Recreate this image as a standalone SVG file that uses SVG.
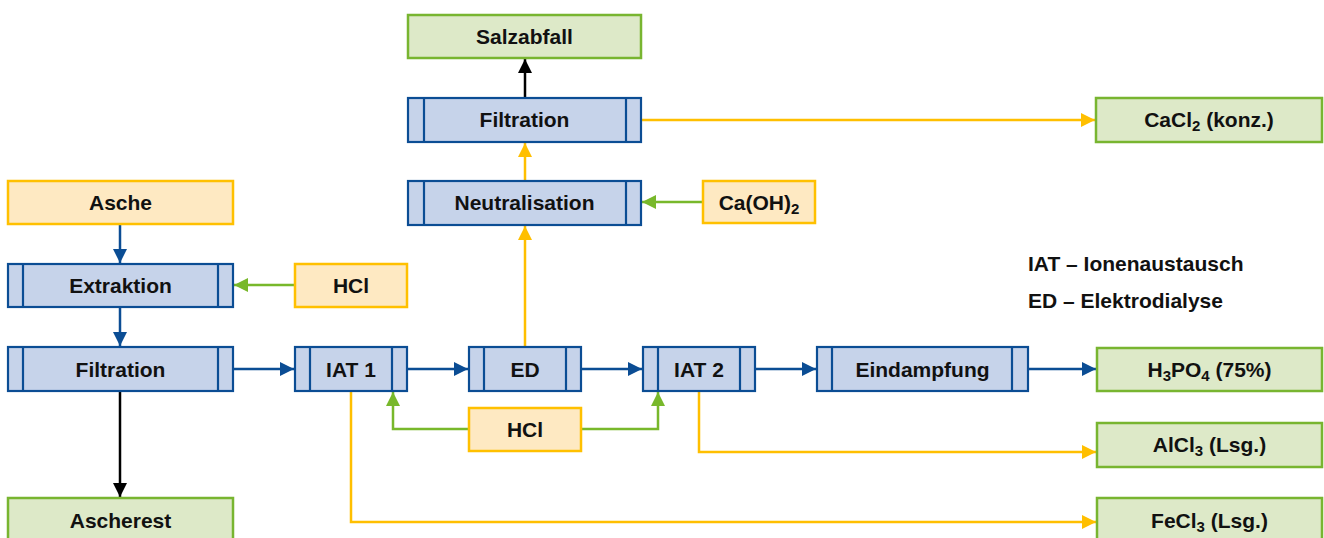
<svg xmlns="http://www.w3.org/2000/svg" width="1324" height="538" viewBox="0 0 1324 538">
<style>
text{font-family:"Liberation Sans",Arial,sans-serif;font-weight:bold;font-size:21px;fill:#111;text-anchor:middle}
.legend{text-anchor:start}
.proc{fill:#c6d3ea;stroke:#0b4d94;stroke-width:2.2}
.div{stroke:#0b4d94;stroke-width:2.2;fill:none}
.in{fill:#fee9c2;stroke:#ffc000;stroke-width:2.5}
.out{fill:#dde9c8;stroke:#78b530;stroke-width:2.5}
.cb{stroke:#0b4d94;stroke-width:2.5;fill:none}
.cg{stroke:#78b82b;stroke-width:2.5;fill:none}
.cy{stroke:#ffbf00;stroke-width:2.5;fill:none}
.ck{stroke:#000;stroke-width:2.5;fill:none}
</style>
<defs>
<marker id="ab" markerUnits="userSpaceOnUse" markerWidth="14" markerHeight="14" viewBox="0 0 14 14" refX="14" refY="7" orient="auto"><path d="M0,0L14,7L0,14z" fill="#0b4d94"/></marker>
<marker id="ag" markerUnits="userSpaceOnUse" markerWidth="14" markerHeight="14" viewBox="0 0 14 14" refX="14" refY="7" orient="auto"><path d="M0,0L14,7L0,14z" fill="#78b82b"/></marker>
<marker id="ay" markerUnits="userSpaceOnUse" markerWidth="14" markerHeight="14" viewBox="0 0 14 14" refX="14" refY="7" orient="auto"><path d="M0,0L14,7L0,14z" fill="#ffbf00"/></marker>
<marker id="ak" markerUnits="userSpaceOnUse" markerWidth="14" markerHeight="14" viewBox="0 0 14 14" refX="14" refY="7" orient="auto"><path d="M0,0L14,7L0,14z" fill="#000"/></marker>
</defs>

<g id="connectors">
<path class="cb" d="M120,224V263" marker-end="url(#ab)"/>
<path class="cb" d="M120,307V346" marker-end="url(#ab)"/>
<path class="cb" d="M233,369H294" marker-end="url(#ab)"/>
<path class="cb" d="M407,369H468" marker-end="url(#ab)"/>
<path class="cb" d="M581,369H642" marker-end="url(#ab)"/>
<path class="cb" d="M755,369H816" marker-end="url(#ab)"/>
<path class="cb" d="M1028,369H1096" marker-end="url(#ab)"/>
<path class="cg" d="M295,285H234" marker-end="url(#ag)"/>
<path class="cg" d="M703,202H642" marker-end="url(#ag)"/>
<path class="cg" d="M469,429H393V392" marker-end="url(#ag)"/>
<path class="cg" d="M581,429H658V392" marker-end="url(#ag)"/>
<path class="cy" d="M525,347V226" marker-end="url(#ay)"/>
<path class="cy" d="M525,181V143" marker-end="url(#ay)"/>
<path class="cy" d="M641,120H1095" marker-end="url(#ay)"/>
<path class="cy" d="M699,391V452H1096" marker-end="url(#ay)"/>
<path class="cy" d="M351,391V522H1096" marker-end="url(#ay)"/>
<path class="ck" d="M525,98V59" marker-end="url(#ak)"/>
<path class="ck" d="M120,391V497" marker-end="url(#ak)"/>
</g>

<g id="asche"><rect class="in" x="8" y="181" width="225" height="43"/><text x="120.5" y="210">Asche</text></g>
<g id="extraktion"><rect class="proc" x="8" y="264" width="225" height="43"/><path class="div" d="M23,264V307M218,264V307"/><text x="120.5" y="293">Extraktion</text></g>
<g id="hcl1"><rect class="in" x="295" y="264" width="112" height="43"/><text x="351" y="293">HCl</text></g>
<g id="filtration1"><rect class="proc" x="8" y="347" width="225" height="44"/><path class="div" d="M23,347V391M218,347V391"/><text x="120.5" y="377">Filtration</text></g>
<g id="ascherest"><rect class="out" x="8" y="498" width="225" height="44"/><text x="120.5" y="528">Ascherest</text></g>
<g id="iat1"><rect class="proc" x="295" y="347" width="112" height="44"/><path class="div" d="M310,347V391M392,347V391"/><text x="351" y="377">IAT 1</text></g>
<g id="ed"><rect class="proc" x="469" y="347" width="112" height="44"/><path class="div" d="M484,347V391M566,347V391"/><text x="525" y="377">ED</text></g>
<g id="hcl2"><rect class="in" x="469" y="408" width="112" height="43"/><text x="525" y="437">HCl</text></g>
<g id="iat2"><rect class="proc" x="643" y="347" width="112" height="44"/><path class="div" d="M658,347V391M740,347V391"/><text x="699" y="377">IAT 2</text></g>
<g id="eindampfung"><rect class="proc" x="817" y="347" width="211" height="44"/><path class="div" d="M832,347V391M1012,347V391"/><text x="922.5" y="377">Eindampfung</text></g>
<g id="neutralisation"><rect class="proc" x="408" y="181" width="233" height="44"/><path class="div" d="M424,181V225M626,181V225"/><text x="524.5" y="210">Neutralisation</text></g>
<g id="caoh2"><rect class="in" x="703" y="181" width="112" height="42"/><text x="759" y="210">Ca(OH)<tspan font-size="15" dy="4">2</tspan></text></g>
<g id="filtration2"><rect class="proc" x="408" y="98" width="233" height="44"/><path class="div" d="M424,98V142M626,98V142"/><text x="524.5" y="127">Filtration</text></g>
<g id="salzabfall"><rect class="out" x="408" y="15" width="233" height="43"/><text x="524.5" y="44">Salzabfall</text></g>
<g id="cacl2"><rect class="out" x="1096" y="98" width="226" height="44"/><text x="1209" y="127">CaCl<tspan font-size="15" dy="4">2</tspan><tspan dy="-4"> (konz.)</tspan></text></g>
<g id="h3po4"><rect class="out" x="1097" y="348" width="225" height="43"/><text x="1209.5" y="377">H<tspan font-size="15" dy="4">3</tspan><tspan dy="-4">PO</tspan><tspan font-size="15" dy="4">4</tspan><tspan dy="-4"> (75%)</tspan></text></g>
<g id="alcl3"><rect class="out" x="1097" y="423" width="225" height="44"/><text x="1209.5" y="452">AlCl<tspan font-size="15" dy="4">3</tspan><tspan dy="-4"> (Lsg.)</tspan></text></g>
<g id="fecl3"><rect class="out" x="1097" y="498" width="225" height="44"/><text x="1209.5" y="528">FeCl<tspan font-size="15" dy="4">3</tspan><tspan dy="-4"> (Lsg.)</tspan></text></g>
<g id="legend">
<text class="legend" x="1028" y="271">IAT – Ionenaustausch</text>
<text class="legend" x="1028" y="308">ED – Elektrodialyse</text>
</g>
</svg>
